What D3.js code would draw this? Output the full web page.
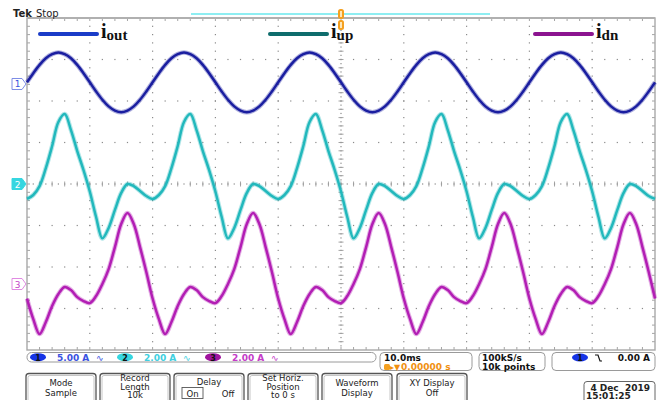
<!DOCTYPE html>
<html>
<head>
<meta charset="utf-8">
<script src="https://cdn.jsdelivr.net/npm/d3@7"></script>
<style>
  body { margin: 0; background: #fff; }
  svg { display: block; }
</style>
</head>
<body>
<svg id="scope" width="664" height="400"></svg>
<script>
// Sample clock: one point per millisecond over the 10 ms/div screen (-50 ms .. +50 ms)
const timeMs = d3.range(-50, 51);

// Channel 1: output current i_out (A)
const iOut = [
  0.2, 1.3, 2.3, 3.1, 3.6, 3.8, 3.6, 3.1, 2.3, 1.3, 0.2, -0.9, -1.9, -2.7, -3.2, -3.4, -3.2, -2.7, -1.9, -0.9,
  0.2, 1.3, 2.3, 3.1, 3.6, 3.8, 3.6, 3.1, 2.3, 1.3, 0.2, -0.9, -1.9, -2.7, -3.2, -3.4, -3.2, -2.7, -1.9, -0.9,
  0.2, 1.3, 2.3, 3.1, 3.6, 3.8, 3.6, 3.1, 2.3, 1.3, 0.2, -0.9, -1.9, -2.7, -3.2, -3.4, -3.2, -2.7, -1.9, -0.9,
  0.2, 1.3, 2.3, 3.1, 3.6, 3.8, 3.6, 3.1, 2.3, 1.3, 0.2, -0.9, -1.9, -2.7, -3.2, -3.4, -3.2, -2.7, -1.9, -0.9,
  0.2, 1.3, 2.3, 3.1, 3.6, 3.8, 3.6, 3.1, 2.3, 1.3, 0.2, -0.9, -1.9, -2.7, -3.2, -3.4, -3.2, -2.7, -1.9, -0.9,
  0.2
];

// Channel 2: upper arm current i_up (A)
const iUp = [
  -0.72, -0.53, -0.10, 0.77, 1.83, 2.99, 3.37, 2.60, 1.59, 0.67, -0.36, -1.59, -2.62, -2.12, -1.25, -0.43, 0.00, -0.10, -0.34, -0.58,
  -0.72, -0.53, -0.10, 0.77, 1.83, 2.99, 3.37, 2.60, 1.59, 0.67, -0.36, -1.59, -2.62, -2.12, -1.25, -0.43, 0.00, -0.10, -0.34, -0.58,
  -0.72, -0.53, -0.10, 0.77, 1.83, 2.99, 3.37, 2.60, 1.59, 0.67, -0.36, -1.59, -2.62, -2.12, -1.25, -0.43, 0.00, -0.10, -0.34, -0.58,
  -0.72, -0.53, -0.10, 0.77, 1.83, 2.99, 3.37, 2.60, 1.59, 0.67, -0.36, -1.59, -2.62, -2.12, -1.25, -0.43, 0.00, -0.10, -0.34, -0.58,
  -0.72, -0.53, -0.10, 0.77, 1.83, 2.99, 3.37, 2.60, 1.59, 0.67, -0.36, -1.59, -2.62, -2.12, -1.25, -0.43, 0.00, -0.10, -0.34, -0.58,
  -0.72
];

// Channel 3: lower arm current i_dn (A)
const iDn = [
  -0.70, -1.69, -2.41, -1.83, -1.06, -0.48, -0.14, -0.29, -0.63, -0.82, -0.92, -0.58, 0.00, 0.72, 1.78, 2.89, 3.42, 2.89, 1.78, 0.58,
  -0.70, -1.69, -2.41, -1.83, -1.06, -0.48, -0.14, -0.29, -0.63, -0.82, -0.92, -0.58, 0.00, 0.72, 1.78, 2.89, 3.42, 2.89, 1.78, 0.58,
  -0.70, -1.69, -2.41, -1.83, -1.06, -0.48, -0.14, -0.29, -0.63, -0.82, -0.92, -0.58, 0.00, 0.72, 1.78, 2.89, 3.42, 2.89, 1.78, 0.58,
  -0.70, -1.69, -2.41, -1.83, -1.06, -0.48, -0.14, -0.29, -0.63, -0.82, -0.92, -0.58, 0.00, 0.72, 1.78, 2.89, 3.42, 2.89, 1.78, 0.58,
  -0.70, -1.69, -2.41, -1.83, -1.06, -0.48, -0.14, -0.29, -0.63, -0.82, -0.92, -0.58, 0.00, 0.72, 1.78, 2.89, 3.42, 2.89, 1.78, 0.58,
  -0.70
];

// Channel settings
const channelIds = ["1", "2", "3"];
const ampsPerDiv = [5, 2, 2];
const scaleLabels = ["5.00 A", "2.00 A", "2.00 A"];
const positionDiv = [2.41, 0, -2.41];
const legendNames = ["out", "up", "dn"];

// Readouts
const timebaseLabel = "10.0ms";
const delayLabel = "0.00000 s";
const acquireLabels = ["100kS/s", "10k points"];
const triggerLevel = "0.00 A";
const dateLabels = ["4 Dec  2019", "15:01:25"];
const menuButtons = [
  ["Mode", "Sample"],
  ["Record", "Length", "10k"],
  ["Delay"],
  ["Set Horiz.", "Position", "to 0 s"],
  ["Waveform", "Display"],
  ["XY Display", "Off"]
];

// ---------------------------------------------------------------
const svg = d3.select("#scope");
const plot = { left: 27, right: 655, top: 18, bottom: 350 };
const divW = (plot.right - plot.left) / 10;
const divH = (plot.bottom - plot.top) / 8;

const x = d3.scaleLinear().domain([-50, 50]).range([plot.left, plot.right]);
const yDiv = d3.scaleLinear().domain([-4, 4]).range([plot.bottom, plot.top]);
const traceColors = ["#1a1ea0", "#22b8bc", "#b21eb4"];
const legendColors = ["#1a3cc8", "#0e6c6c", "#8c1490"];
const badgeColors = ["#1634e6", "#36d6e0", "#a0149e"];
const textColors = ["#3a52e0", "#40cfe0", "#c43cc8"];

// ---- graticule ----
const grid = svg.append("g");
const dots = [];
for (let i = 1; i < 10; i++) {
  if (i === 5) continue;
  for (let j = 1; j < 40; j++) dots.push([plot.left + i * divW, plot.top + j * divH / 5]);
}
for (let j = 1; j < 8; j++) {
  if (j === 4) continue;
  for (let i = 1; i < 50; i++) dots.push([plot.left + i * divW / 5, plot.top + j * divH]);
}
// centre cross: denser dots
const cx = plot.left + 5 * divW, cy = plot.top + 4 * divH;
for (let i = 1; i < 100; i++) dots.push([plot.left + i * divW / 10, cy]);
for (let j = 1; j < 80; j++) dots.push([cx, plot.top + j * divH / 10]);
grid.selectAll("rect.dot").data(dots).join("rect")
  .attr("class", "dot")
  .attr("x", d => d[0] - 0.6).attr("y", d => d[1] - 0.6)
  .attr("width", 1.2).attr("height", 1.2)
  .attr("fill", "#8a8a8a");

// ticks on centre cross
const ticks = [];
for (let i = 1; i < 50; i++) {
  const tx = plot.left + i * divW / 5;
  ticks.push([tx, cy - 2.5, tx, cy + 2.5]);
}
for (let j = 1; j < 40; j++) {
  const ty = plot.top + j * divH / 5;
  ticks.push([cx - 2.5, ty, cx + 2.5, ty]);
}
// ticks along the frame
for (let i = 1; i < 50; i++) {
  const tx = plot.left + i * divW / 5;
  ticks.push([tx, plot.top, tx, plot.top + 3]);
  ticks.push([tx, plot.bottom, tx, plot.bottom - 3]);
}
for (let j = 1; j < 40; j++) {
  const ty = plot.top + j * divH / 5;
  ticks.push([plot.left, ty, plot.left + 3, ty]);
  ticks.push([plot.right, ty, plot.right - 3, ty]);
}
grid.selectAll("line.tick").data(ticks).join("line")
  .attr("class", "tick")
  .attr("x1", d => d[0]).attr("y1", d => d[1])
  .attr("x2", d => d[2]).attr("y2", d => d[3])
  .attr("stroke", "#9a9a9a").attr("stroke-width", 0.9);

grid.append("rect")
  .attr("x", plot.left).attr("y", plot.top)
  .attr("width", plot.right - plot.left).attr("height", plot.bottom - plot.top)
  .attr("fill", "none").attr("stroke", "#a8a8a8").attr("stroke-width", 1.4);
grid.append("line")
  .attr("x1", plot.left).attr("x2", plot.right)
  .attr("y1", plot.top).attr("y2", plot.top)
  .attr("stroke", "#b0b0b0").attr("stroke-width", 2);

// ---- header ----
const head = svg.append("text").attr("x", 13).attr("y", 17)
  .attr("font-family", "DejaVu Sans, sans-serif").attr("font-size", 10).attr("fill", "#222");
head.append("tspan").attr("font-weight", "bold").text("Tek");
head.append("tspan").attr("dx", 4).text("Stop");

// record-window bar
svg.append("line").attr("x1", 191).attr("x2", 490).attr("y1", 14).attr("y2", 14)
  .attr("stroke", "#8eeef2").attr("stroke-width", 2);

// trigger position marker
const trig = svg.append("g").attr("transform", `translate(${x(0)},0)`);
trig.append("rect").attr("x", -3).attr("y", 9).attr("width", 6).attr("height", 10).attr("rx", 2.5).attr("fill", "#f4a020");
trig.append("rect").attr("x", -3).attr("y", 20).attr("width", 6).attr("height", 10).attr("rx", 2.5).attr("fill", "#f4a020");
trig.append("rect").attr("x", -1).attr("y", 11).attr("width", 2).attr("height", 6).attr("fill", "#fde6b8");
trig.append("rect").attr("x", -1).attr("y", 22).attr("width", 2).attr("height", 6).attr("fill", "#fde6b8");

// ---- traces ----
const series = [iOut, iUp, iDn];
const traces = svg.append("g");
series.forEach((vals, c) => {
  const line = d3.line()
    .x((d, i) => x(timeMs[i]))
    .y(d => yDiv(d / ampsPerDiv[c] + positionDiv[c]))
    .curve(d3.curveCatmullRom.alpha(0.5));
  traces.append("path").attr("d", line(vals))
    .attr("fill", "none").attr("stroke", traceColors[c])
    .attr("stroke-width", 4.6).attr("stroke-opacity", 0.35)
    .attr("stroke-linejoin", "round");
  traces.append("path").attr("d", line(vals))
    .attr("fill", "none").attr("stroke", traceColors[c])
    .attr("stroke-width", 2.5)
    .attr("stroke-linejoin", "round");
});

// ---- channel ground markers ----
const markers = svg.append("g");
channelIds.forEach((id, c) => {
  const yc = yDiv(positionDiv[c]);
  const g = markers.append("g").attr("transform", `translate(12,${yc})`);
  const filled = c === 1;
  g.append("path").attr("d", "M0,-5.5 H10 L14,0 L10,5.5 H0 Z")
    .attr("fill", filled ? badgeColors[1] : "#fff")
    .attr("stroke", filled ? badgeColors[1] : (c === 0 ? "#7d8ce6" : "#e08ae2"))
    .attr("stroke-width", 1).attr("stroke-linejoin", "round");
  g.append("text").attr("x", 5.5).attr("y", 3.5).attr("text-anchor", "middle")
    .attr("font-family", "DejaVu Sans, sans-serif").attr("font-size", 9)
    .attr("fill", filled ? "#fff" : textColors[c]).text(id);
});

// ---- legend ----
const legendX = [40, 270, 535];
const legend = svg.append("g");
legendNames.forEach((name, c) => {
  const lx = legendX[c];
  legend.append("line").attr("x1", lx).attr("x2", lx + 57).attr("y1", 34).attr("y2", 34)
    .attr("stroke", legendColors[c]).attr("stroke-width", 4).attr("stroke-linecap", "round");
  const t = legend.append("text").attr("x", lx + 61).attr("y", 38)
    .attr("font-family", "Liberation Serif, serif").attr("font-weight", "bold").attr("fill", "#111");
  t.append("tspan").attr("font-size", 20).text("i");
  t.append("tspan").attr("font-size", 15).attr("dy", 2).text(name);
});

// ---- status line ----
const status = svg.append("g").attr("font-family", "DejaVu Sans, sans-serif")
  .attr("font-size", 9).attr("font-weight", "bold");
status.append("rect").attr("x", 27).attr("y", 352.5).attr("width", 349).attr("height", 9.5)
  .attr("rx", 4.5).attr("fill", "#fff").attr("stroke", "#9a9a9a").attr("stroke-width", 1);
const badgeX = [30, 117, 205];
channelIds.forEach((id, c) => {
  const bx = badgeX[c];
  status.append("ellipse").attr("cx", bx + 8).attr("cy", 357.2).attr("rx", 8).attr("ry", 4)
    .attr("fill", badgeColors[c]);
  status.append("text").attr("x", bx + 8).attr("y", 360.5).attr("text-anchor", "middle")
    .attr("fill", "#111").attr("font-size", 8).text(id);
  status.append("text").attr("x", bx + 27).attr("y", 361).attr("fill", textColors[c]).text(scaleLabels[c]);
  status.append("text").attr("x", bx + 66).attr("y", 361).attr("fill", textColors[c])
    .attr("font-weight", "normal").text("\u223F");
});

// timebase box
status.append("rect").attr("x", 380).attr("y", 352.5).attr("width", 92).attr("height", 18)
  .attr("rx", 4).attr("fill", "#fff").attr("stroke", "#9a9a9a");
status.append("text").attr("x", 384).attr("y", 361).attr("fill", "#111").text(timebaseLabel);
status.append("rect").attr("x", 384).attr("y", 364).attr("width", 6).attr("height", 6).attr("rx", 1.5).attr("fill", "#f4a020");
status.append("text").attr("x", 390).attr("y", 369.5).attr("fill", "#f09010").attr("font-size", 8).text("\u25B8\u25BC");
status.append("text").attr("x", 401).attr("y", 369.5).attr("fill", "#f09010").text(delayLabel);

// acquisition box
status.append("rect").attr("x", 479).attr("y", 352.5).attr("width", 66).attr("height", 18)
  .attr("rx", 4).attr("fill", "#fff").attr("stroke", "#9a9a9a");
acquireLabels.forEach((s, i) => {
  status.append("text").attr("x", 482).attr("y", 361 + i * 8.5).attr("fill", "#111").text(s);
});

// trigger box
status.append("rect").attr("x", 552).attr("y", 352.5).attr("width", 103).attr("height", 18)
  .attr("rx", 4).attr("fill", "#fff").attr("stroke", "#9a9a9a");
status.append("ellipse").attr("cx", 580).attr("cy", 357.5).attr("rx", 8).attr("ry", 4).attr("fill", badgeColors[0]);
status.append("text").attr("x", 580).attr("y", 360.8).attr("text-anchor", "middle")
  .attr("fill", "#111").attr("font-size", 8).text("1");
status.append("path").attr("d", "M595,355 H598 L600,361 H602")
  .attr("fill", "none").attr("stroke", "#111").attr("stroke-width", 1.2);
status.append("text").attr("x", 650).attr("y", 361).attr("text-anchor", "end")
  .attr("fill", "#111").text(triggerLevel);

// ---- menu buttons ----
const menu = svg.append("g").attr("font-family", "DejaVu Sans, sans-serif").attr("font-size", 8.5).attr("fill", "#222");
const buttonX = [26, 100, 174, 248, 322, 397];
const buttonW = 70;
menuButtons.forEach((lines, b) => {
  const bx = buttonX[b];
  menu.append("rect").attr("x", bx).attr("y", 373.5).attr("width", buttonW).attr("height", 34)
    .attr("rx", 3).attr("fill", "#fff").attr("stroke", "#555").attr("stroke-width", 1.3);
  menu.append("rect").attr("x", bx + 2).attr("y", 375.5).attr("width", buttonW - 4).attr("height", 30)
    .attr("rx", 2).attr("fill", "none").attr("stroke", "#b8b8b8").attr("stroke-width", 0.8);
  const mid = bx + buttonW / 2;
  const base = lines.length === 3 ? 381 : (lines.length === 2 ? 386 : 385);
  const step = lines.length === 3 ? 8.6 : 9.5;
  lines.forEach((s, i) => {
    menu.append("text").attr("x", mid).attr("y", base + i * step).attr("text-anchor", "middle").text(s);
  });
});
// Delay On / Off toggle
menu.append("rect").attr("x", 182).attr("y", 387.5).attr("width", 21).attr("height", 11)
  .attr("fill", "none").attr("stroke", "#555").attr("stroke-width", 0.9);
menu.append("text").attr("x", 192.5).attr("y", 396.5).attr("text-anchor", "middle").text("On");
menu.append("text").attr("x", 228).attr("y", 396.5).attr("text-anchor", "middle").text("Off");

// date box
menu.append("rect").attr("x", 584).attr("y", 381.5).attr("width", 71).attr("height", 22)
  .attr("rx", 3).attr("fill", "#fff").attr("stroke", "#666");
menu.append("text").attr("x", 650).attr("y", 390.5).attr("text-anchor", "end").attr("font-weight", "bold").attr("font-size", 9).attr("xml:space", "preserve").text(dateLabels[0]);
menu.append("text").attr("x", 586).attr("y", 399).attr("font-weight", "bold").attr("font-size", 9).text(dateLabels[1]);
</script>
</body>
</html>
